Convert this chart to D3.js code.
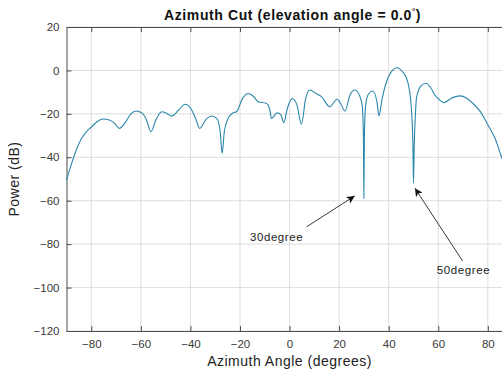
<!doctype html>
<html lang="en">
<head>
<meta charset="utf-8">
<script src="https://d3js.org/d3.v7.min.js"></script>
<style>
  body { margin: 0; background: #fff; }
  svg { display: block; font-family: "Liberation Sans", Arial, sans-serif; }
</style>
</head>
<body>
<svg width="502" height="372"></svg>
<script>

// azimuth cut
var azimuth = [-90, -88, -86, -84, -82, -79.8, -77.5, -75.2, -72.5, -70.5, -68.7,
  -66, -64, -62, -59.7, -58, -55.9, -54, -51.6, -49.5, -47.6,
  -44.5, -42.2, -39.5, -37.8, -36.2, -34, -31.5, -29.4, -28, -27.2,
  -26.3, -24.8, -22.7, -21.4, -19, -16.7, -14.5, -12.7, -9.3, -8,
  -7.3, -5, -3.5, -2.3, -1, -0.2, 1.2, 3, 4.8, 6.5,
  8.2, 10.5, 12.9, 16.2, 19.2, 20.5, 22.3, 24.5, 26.3, 28.2,
  29.3, 29.8, 30, 30.2, 30.7, 31.8, 33.5, 35.2, 36.1, 37.2,
  39.1, 41, 43.5, 45.5, 47.2, 48.8, 49.3, 49.8, 50, 50.3,
  50.8, 51.2, 52.8, 55, 57, 58.6, 60.5, 62.3, 65, 68.7,
  71.5, 74, 77, 80.1, 83, 85.5, 88, 90];
var power = [-50.5, -43, -36.5, -31.5, -28.3, -25.9, -23.5, -22.4, -22.9, -24.5, -26.7,
  -23.5, -20, -18.7, -19.5, -22, -28.2, -23, -19, -19.8, -21,
  -17.9, -15.6, -18.2, -22.5, -26.7, -23, -21, -22.1, -28, -38.2,
  -28, -22.1, -19.5, -19, -13, -10.6, -12, -14.4, -15.2, -18,
  -22.1, -19.5, -20.5, -24.1, -18, -15.2, -12.9, -16, -24.8, -13,
  -9, -10.5, -12.1, -16.7, -13.3, -15, -18.7, -11, -9, -11.5,
  -16, -30, -59, -30, -16, -11, -9.5, -14, -20.9, -14,
  -5.2, -0.8, 1.2, -0.5, -3.6, -12.9, -20, -35, -52, -35,
  -20, -12.9, -7.5, -5.9, -8, -11.3, -13.5, -14.9, -13, -11.7,
  -12.8, -15.2, -19, -25.2, -31.5, -39.8, -47, -52];

var xTicks = [-80, -60, -40, -20, 0, 20, 40, 60, 80];
var yTicks = [-120, -100, -80, -60, -40, -20, 0, 20];

// annotations: label, text anchor point, arrow tail, arrow head (data units)
var noteText = ["30degree", "50degree"];
var noteAt = [[-16, -76.5], [59.4, -92]];
var noteTail = [[6.9, -72], [69.8, -87.7]];
var noteHead = [[26.3, -57.8], [50.6, -54.3]];

var svg = d3.select("svg"),
    padL = 66.5, padR = 512.6, padT = 27, padB = 331;

var x = d3.scaleLinear().domain([-90, 90]).range([padL, padR]);
var y = d3.scaleLinear().domain([-120, 20]).range([padB, padT]);

// grid
svg.append("g").selectAll("line").data(xTicks).join("line")
    .attr("x1", d => x(d)).attr("x2", d => x(d))
    .attr("y1", padT).attr("y2", padB)
    .attr("stroke", "#dedede").attr("stroke-width", 1);
svg.append("g").selectAll("line").data(yTicks).join("line")
    .attr("x1", padL).attr("x2", padR)
    .attr("y1", d => y(d)).attr("y2", d => y(d))
    .attr("stroke", "#dedede").attr("stroke-width", 1);

// axes (ticks point inward like matlab)
var xAxis = svg.append("g")
    .attr("transform", "translate(0," + padB + ")")
    .call(d3.axisBottom(x).tickValues(xTicks).tickSizeInner(-5).tickSizeOuter(0).tickPadding(9));
var xTop = svg.append("g")
    .attr("transform", "translate(0," + padT + ")")
    .call(d3.axisTop(x).tickValues(xTicks).tickSizeInner(-5).tickSizeOuter(0).tickFormat(""));
var yAxis = svg.append("g")
    .attr("transform", "translate(" + padL + ",0)")
    .call(d3.axisLeft(y).tickValues(yTicks).tickSizeInner(-5).tickSizeOuter(0).tickPadding(7));

[xAxis, xTop, yAxis].forEach(function(g) {
  g.select(".domain").attr("stroke", "#4d4d4d");
  g.selectAll(".tick line").attr("stroke", "#4d4d4d");
  g.selectAll("text").attr("fill", "#3a3a3a").attr("font-size", 11.5)
    .attr("font-family", "'Liberation Sans', Arial, sans-serif");
});

// curve
var pts = azimuth.map((a, i) => [a, power[i]]);
svg.append("path")
    .datum(pts)
    .attr("fill", "none")
    .attr("stroke", "#2a86aa")
    .attr("stroke-width", 1.1)
    .attr("d", d3.line().x(d => x(d[0])).y(d => y(d[1])).curve(d3.curveMonotoneX));

// arrows
svg.append("defs").append("marker")
    .attr("id", "head")
    .attr("viewBox", "0 0 10 10")
    .attr("refX", 10).attr("refY", 5)
    .attr("markerWidth", 10).attr("markerHeight", 8)
    .attr("markerUnits", "userSpaceOnUse")
    .attr("orient", "auto")
  .append("path")
    .attr("d", "M0,0 L10,5 L0,10 L2.5,5 Z")
    .attr("fill", "#111");

noteText.forEach(function(t, i) {
  svg.append("line")
      .attr("x1", x(noteTail[i][0])).attr("y1", y(noteTail[i][1]))
      .attr("x2", x(noteHead[i][0])).attr("y2", y(noteHead[i][1]))
      .attr("stroke", "#222").attr("stroke-width", 0.9)
      .attr("marker-end", "url(#head)");
  svg.append("text")
      .attr("x", x(noteAt[i][0])).attr("y", y(noteAt[i][1]))
      .attr("dy", "0.35em")
      .attr("font-size", 11.5).attr("letter-spacing", 0.6).attr("fill", "#222")
      .text(t);
});

// labels
var title = svg.append("text")
    .attr("x", (padL + padR) / 2 + 3).attr("y", 20)
    .attr("text-anchor", "middle")
    .attr("font-size", 14).attr("letter-spacing", 0.6)
    .attr("font-weight", "bold").attr("fill", "#111");
title.append("tspan").text("Azimuth Cut (elevation angle = 0.0");
title.append("tspan").attr("font-size", 8).attr("dy", -6).text("°");
title.append("tspan").attr("dy", 6).text(")");

svg.append("text")
    .attr("x", (padL + padR) / 2).attr("y", 366)
    .attr("text-anchor", "middle")
    .attr("font-size", 14).attr("letter-spacing", 0.5).attr("fill", "#222")
    .text("Azimuth Angle (degrees)");

svg.append("text")
    .attr("transform", "translate(19," + y(-50) + ") rotate(-90)")
    .attr("text-anchor", "middle")
    .attr("font-size", 14).attr("letter-spacing", 0.5).attr("fill", "#222")
    .text("Power (dB)");

</script>
</body>
</html>
